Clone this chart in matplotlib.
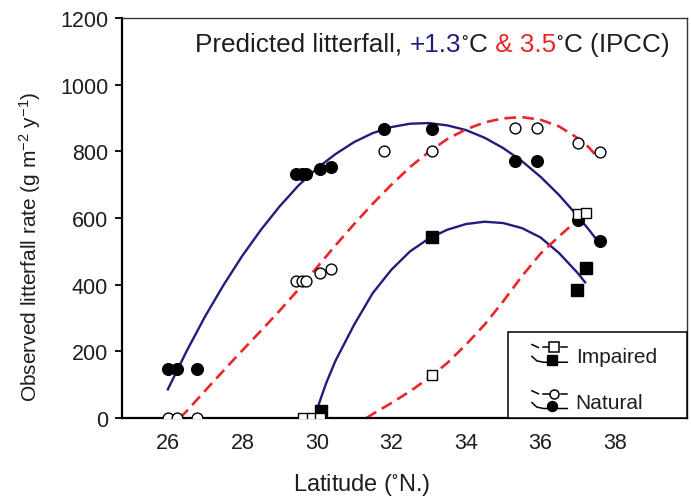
import matplotlib
matplotlib.use("Agg")
import matplotlib.pyplot as plt
from matplotlib.lines import Line2D
from matplotlib.patches import Rectangle
from matplotlib.legend_handler import HandlerBase

plt.rcParams['font.family'] = ['Liberation Sans', 'DejaVu Sans']
plt.rcParams['mathtext.fontset'] = 'custom'
plt.rcParams['mathtext.rm'] = 'Liberation Sans'
plt.rcParams['mathtext.it'] = 'Liberation Sans:italic'
plt.rcParams['mathtext.default'] = 'regular'

# ---------------- data ----------------
nat_lat = [26.0, 26.24, 26.78, 29.45, 29.59, 29.70, 30.08, 30.39, 31.80, 33.10, 35.32, 35.90, 37.02, 37.60]
nat_observed = [148, 148, 147, 732, 732, 733, 746, 752, 867, 867, 772, 772, 595, 532]
nat_open = [0, 0, 0, 410, 410, 412, 435, 448, 802, 802, 869, 869, 824, 797]

imp_filled_lat = [30.12, 33.10, 36.99, 37.22]
imp_filled_val = [22, 542, 384, 449]
imp_open_lat = [29.63, 29.86, 30.08, 33.10, 37.01, 37.22]
imp_open_val = [0, 0, 0, 130, 613, 615]

# fitted curves
nat_blue_x = [26.0, 26.5, 27.0, 27.5, 28.0, 28.5, 29.0, 29.5, 30.0, 30.5, 31.0, 31.5, 32.0,
              32.5, 33.0, 33.5, 34.0, 34.5, 35.0, 35.5, 36.0, 36.5, 37.0, 37.3, 37.6]
nat_blue_y = [86, 200, 305, 400, 487, 565, 635, 697, 749, 792, 828, 855, 873,
              883, 885, 878, 864, 841, 810, 771, 724, 669, 606, 565, 522]

nat_red_x = [26.32, 26.5, 27.0, 27.5, 28.0, 28.5, 29.0, 29.5, 30.0, 30.5, 31.0, 31.5, 32.0,
             32.5, 33.0, 33.5, 34.0, 34.5, 35.0, 35.5, 36.0, 36.5, 37.0, 37.3, 37.55]
nat_red_y = [0, 20, 82, 143, 203, 262, 322, 385, 452, 518, 582, 643, 700,
             753, 798, 837, 866, 887, 899, 903, 895, 875, 840, 812, 780]

imp_blue_x = [30.0, 30.25, 30.5, 31.0, 31.5, 32.0, 32.5, 33.0, 33.5, 34.0, 34.5, 35.0,
              35.5, 36.0, 36.5, 37.0, 37.2]
imp_blue_y = [25, 105, 172, 280, 375, 445, 500, 538, 565, 582, 589, 585,
              570, 542, 495, 435, 407]

imp_red_x = [31.33, 31.5, 32.0, 32.5, 33.0, 33.5, 34.0, 34.5, 35.0, 35.5, 36.0, 36.5, 37.0, 37.05]
imp_red_y = [0, 12, 45, 80, 120, 165, 220, 280, 350, 425, 493, 545, 595, 602]

x_ticks = [26, 28, 30, 32, 34, 36, 38]
y_ticks = [0, 200, 400, 600, 800, 1000, 1200]
legend_labels = ['Impaired', 'Natural']
legend_markers = ['s', 'o']

BLUE = '#201e7c'
RED = '#ea2628'
TXT = '#1e1e1e'

# ---------------- figure ----------------
fig = plt.figure(figsize=(6.91, 5.02), dpi=100)
ax = fig.add_axes([0.1766, 0.1653, 0.994 - 0.1766, 0.962 - 0.1653])

dash = (0, (4.4, 2.4))
ax.plot(nat_blue_x, nat_blue_y, color=BLUE, lw=1.7, zorder=2)
ax.plot(imp_blue_x, imp_blue_y, color=BLUE, lw=1.7, zorder=2)
ax.plot(nat_red_x, nat_red_y, color=RED, lw=1.9, ls=dash, zorder=2)
ax.plot(imp_red_x, imp_red_y, color=RED, lw=1.9, ls=dash, zorder=2)

ax.plot(nat_lat, nat_open, ls='none', marker='o', ms=7.8, mfc='white', mec='black', mew=1.0, zorder=4)
ax.plot(nat_lat, nat_observed, ls='none', marker='o', ms=8.4, mfc='black', mec='black', zorder=4)
ax.plot(imp_filled_lat, imp_filled_val, ls='none', marker='s', ms=8.2, mfc='black', mec='black', zorder=4)
ax.plot(imp_open_lat, imp_open_val, ls='none', marker='s', ms=7.2, mfc='white', mec='black', mew=1.0, zorder=5)

ax.set_xlim(24.77, 39.93)
ax.set_ylim(0, 1200)
ax.set_xticks(x_ticks)
ax.set_yticks(y_ticks)
ax.tick_params(axis='x', length=0, pad=10, labelsize=15.5, labelcolor=TXT)
ax.tick_params(axis='y', length=5, width=1.3, direction='out', pad=5, labelsize=15.5, labelcolor=TXT)
for s in ['left', 'bottom']:
    ax.spines[s].set_linewidth(1.6)
    ax.spines[s].set_color('black')
for s in ['top', 'right']:
    ax.spines[s].set_linewidth(1.0)
    ax.spines[s].set_color('#333333')

ax.set_xlabel('Latitude ($^{\\circ}$N.)', fontsize=17, color=TXT)
ax.xaxis.set_label_coords(0.425, -0.132)
ax.set_ylabel('Observed litterfall rate (g m$^{-2}$ y$^{-1}$)', fontsize=15, color=TXT)
ax.yaxis.set_label_coords(-0.14, 0.43)

# title with coloured parts (pieces placed one after another)
parts = [('Predicted litterfall, ', TXT), ('+1.3', BLUE), ('$^{\\circ}$C', TXT),
         (' & 3.5', RED), ('$^{\\circ}$C (IPCC)', TXT)]
fig.canvas.draw()
renderer = fig.canvas.get_renderer()
x_px, y_px = ax.transAxes.transform((0.129, 0.918))
inv = fig.transFigure.inverted()
for txt, col in parts:
    fx, fy = inv.transform((x_px, y_px))
    t = fig.text(fx, fy, txt, fontsize=18.8, color=col, ha='left', va='baseline')
    bb = t.get_window_extent(renderer=renderer)
    x_px = bb.x1


# ---------------- legend with custom glyphs ----------------
class PairHandler(HandlerBase):
    def create_artists(self, legend, orig_handle, xdescent, ydescent, width, height, fontsize, trans):
        marker = orig_handle
        x0 = -xdescent
        y0 = -ydescent
        w, h = width, height
        ytop = y0 + 0.83 * h
        ybot = y0 + 0.18 * h
        arts = [
            Line2D([x0, x0 + 0.18 * w], [ytop + 0.13 * h, ytop], color='black', lw=1.1),
            Line2D([x0 + 0.3 * w, x0 + 0.5 * w], [ytop, ytop], color='black', lw=1.1),
            Line2D([x0 + 0.62 * w], [ytop], marker=marker, ms=6.5, mfc='white', mec='black',
                   mew=1.1, ls='none'),
            Line2D([x0 + 0.82 * w, x0 + 1.0 * w], [ytop, ytop], color='black', lw=1.1),
            Line2D([x0, x0 + 0.14 * w, x0 + 0.33 * w, x0 + w],
                   [ybot + 0.26 * h, ybot + 0.06 * h, ybot, ybot], color='black', lw=1.1),
            Line2D([x0 + 0.56 * w], [ybot + 0.1 * h], marker=marker, ms=7.2, mfc='black',
                   mec='black', ls='none'),
        ]
        for a in arts:
            a.set_transform(trans)
        return arts


frame = Rectangle((0.683, 0.0), 1.0 - 0.683, 0.215, transform=ax.transAxes,
                  facecolor='white', edgecolor='black', lw=1.1, zorder=6, clip_on=False)
ax.add_patch(frame)
leg = ax.legend(legend_markers, legend_labels, handler_map={str: PairHandler()},
                loc='upper left', bbox_to_anchor=(0.7257, 0.186), borderaxespad=0,
                borderpad=0, frameon=False, fontsize=15, handlelength=1.7,
                handleheight=1.3, handletextpad=0.4, labelspacing=1.13)
leg.set_zorder(7)
for txt in leg.get_texts():
    txt.set_color(TXT)

fig.savefig('out.png', dpi=100)
